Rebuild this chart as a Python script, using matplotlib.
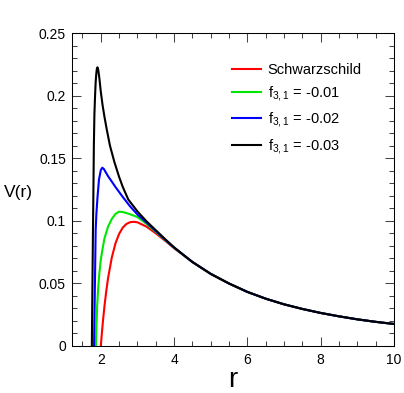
import numpy as np
import matplotlib
matplotlib.use('Agg')
from matplotlib import pyplot as plt
from matplotlib.ticker import MultipleLocator

plt.rcParams['font.family'] = ['Liberation Sans', 'DejaVu Sans']
plt.rcParams['mathtext.fontset'] = 'custom'
plt.rcParams['mathtext.rm'] = 'Liberation Sans'
plt.rcParams['mathtext.it'] = 'Liberation Sans'
plt.rcParams['mathtext.default'] = 'regular'

# values
tail_r = [4.5, 5.0, 5.5, 6.0, 6.5, 7.0, 7.5, 8.0, 8.5, 9.0, 9.5, 10.0]
tail_v = [0.0671, 0.0576, 0.0499, 0.0432, 0.0378, 0.0333, 0.0296, 0.0264, 0.0237, 0.0213, 0.0193, 0.0176]

r_schw = [2.0, 2.03, 2.06, 2.1, 2.15, 2.2, 2.3, 2.4, 2.5, 2.6, 2.7, 2.8, 2.9, 3.0, 3.25, 3.5, 3.75, 4.0]
v_schw = [0.0, 0.0107, 0.0204, 0.0319, 0.0442, 0.0546, 0.0707, 0.0820, 0.0896, 0.0946, 0.0975, 0.0989,
          0.0992, 0.0988, 0.0953, 0.0900, 0.0842, 0.0781]

r_f01 = [1.865, 1.88, 1.9, 1.93, 1.96, 2.0, 2.05, 2.1, 2.2, 2.3, 2.4, 2.5, 2.6, 2.7, 2.85, 3.0, 3.25, 3.5,
         3.75, 4.0]
v_f01 = [0.0, 0.015, 0.032, 0.047, 0.058, 0.069, 0.078, 0.086, 0.0955, 0.1015, 0.1055, 0.1073, 0.1070,
         0.1062, 0.1047, 0.1030, 0.0975, 0.0912, 0.0848, 0.0784]

r_f02 = [1.815, 1.83, 1.845, 1.86, 1.88, 1.91, 1.95, 2.0, 2.04, 2.08, 2.13, 2.2, 2.27, 2.4, 2.6, 2.8, 3.0,
         3.25, 3.5, 3.75, 4.0]
v_f02 = [0.0, 0.030, 0.062, 0.093, 0.106, 0.119, 0.133, 0.1405, 0.1424, 0.1415, 0.139, 0.1355, 0.1326,
         0.127, 0.119, 0.1115, 0.1050, 0.0985, 0.0918, 0.0851, 0.0786]

r_f03 = [1.755, 1.77, 1.785, 1.8, 1.81, 1.825, 1.843, 1.86, 1.875, 1.89, 1.91, 1.93, 1.96, 2.0, 2.05, 2.1,
         2.165, 2.25, 2.37, 2.5, 2.6, 2.75, 3.0, 3.25, 3.5, 3.75, 4.0]
v_f03 = [0.0, 0.045, 0.09, 0.13, 0.16, 0.185, 0.200, 0.211, 0.217, 0.2212, 0.2226, 0.2205, 0.214, 0.203,
         0.192, 0.183, 0.1725, 0.160, 0.147, 0.135, 0.127, 0.117, 0.1075, 0.0995, 0.0925, 0.0855, 0.0788]

labels = ['Schwarzschild', 'f$_{3,1}$ = -0.01', 'f$_{3,1}$ = -0.02', 'f$_{3,1}$ = -0.03']
colors = ['#ff0000', '#00e600', '#0000ff', '#000000']
rs = [r_schw, r_f01, r_f02, r_f03]
vs = [v_schw, v_f01, v_f02, v_f03]

fig = plt.figure(figsize=(4.04, 3.93), dpi=100)
ax = fig.add_axes([0.177, 0.1196, 0.798, 0.7964])

for r, v, c, lab in zip(rs, vs, colors, labels):
    ax.plot(r + tail_r, v + tail_v, color=c, lw=1.5, label=lab)

ax.set_xlim(1.2, 10)
ax.set_ylim(0, 0.25)
ax.xaxis.set_major_locator(MultipleLocator(2))
ax.xaxis.set_minor_locator(MultipleLocator(0.5))
ax.yaxis.set_major_locator(MultipleLocator(0.05))
ax.yaxis.set_minor_locator(MultipleLocator(0.01))
ax.set_xticks([2, 4, 6, 8, 10])
ax.set_xticklabels(['2', '4', '6', '8', '10'])
ax.set_yticks([0, 0.05, 0.1, 0.15, 0.2, 0.25])
ax.set_yticklabels(['0', '0.05', '0.1', '0.15', '0.2', '0.25'])
ax.tick_params(which='both', direction='in', top=True, right=True, width=0.75, color='#444444')
ax.tick_params(which='major', length=6.5, labelsize=10, pad=5)
ax.tick_params(which='minor', length=3.3)
ax.tick_params(axis='y', which='major', pad=4)
for s in ax.spines.values():
    s.set_linewidth(0.75)

ax.set_xlabel('r', fontsize=20, labelpad=0)
ax.set_ylabel('V(r)', fontsize=12.5, rotation=0, labelpad=0)
ax.yaxis.set_label_coords(-0.165, 0.465)

ax.legend(loc='upper left', bbox_to_anchor=(0.497, 0.905), frameon=False, fontsize=10.5,
          handlelength=2.0, handletextpad=0.46, labelspacing=0.5, borderpad=0, borderaxespad=0)

plt.savefig('out.png', dpi=100)
